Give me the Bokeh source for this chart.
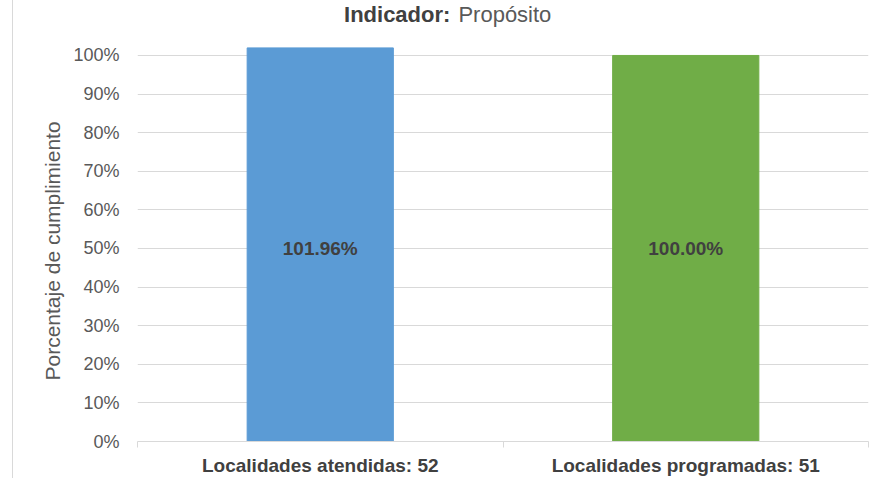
from bokeh.plotting import figure
from bokeh.models import ColumnDataSource, FixedTicker, Label, NumeralTickFormatter, Title
from bokeh.core.properties import value
from bokeh.embed import file_html
from bokeh.resources import INLINE

categories = ["Localidades atendidas: 52", "Localidades programadas: 51"]
percentages = [1.0196, 1.0]
colors = ["#5B9BD5", "#70AD47"]
y_ticks = [0.0, 0.1, 0.2, 0.3, 0.4, 0.5, 0.6, 0.7, 0.8, 0.9, 1.0]
title_bold = "Indicador:"
title_normal = "Propósito"
y_title = "Porcentaje de cumplimiento"

x_pos = [i + 0.5 for i in range(len(categories))]
labels = [f"{v*100:.2f}%" for v in percentages]
src = ColumnDataSource(dict(x=x_pos, top=percentages, color=colors,
                            label=labels, mid=[0.5] * len(categories)))

y_end = 1.132
p = figure(width=860, height=478, x_range=(0, len(categories)), y_range=(0, y_end),
           output_backend="svg", toolbar_location=None,
           min_border_left=124, min_border_right=5, min_border_top=4, min_border_bottom=37)
p.styles = {"margin-left": "12px", "border-left": "1px solid #D9D9D9"}
p.outline_line_color = None
p.background_fill_color = "white"

p.vbar(x="x", top="top", bottom=0, width=0.4, color="color", source=src)
p.text(x="x", y="mid", text="label", source=src, text_align="center", text_baseline="middle",
       text_font=value("Liberation Sans"), text_font_style="bold", text_font_size="19px",
       text_color="#404040")

# x axis
p.xaxis.ticker = FixedTicker(ticks=x_pos, minor_ticks=list(range(len(categories) + 1)))
p.xaxis.major_label_overrides = {x: c for x, c in zip(x_pos, categories)}
p.xaxis.major_tick_out = 0
p.xaxis.major_tick_in = 0
p.xaxis.minor_tick_out = 6
p.xaxis.minor_tick_in = 0
p.xaxis.minor_tick_line_color = "#D9D9D9"
p.xaxis.axis_line_color = "#D9D9D9"
p.xaxis.major_label_text_font = "Liberation Sans"
p.xaxis.major_label_text_font_style = "bold"
p.xaxis.major_label_text_font_size = "19px"
p.xaxis.major_label_text_color = "#404040"
p.xaxis.major_label_standoff = 7
p.xgrid.grid_line_color = None

# y axis
p.yaxis.ticker = FixedTicker(ticks=y_ticks)
p.yaxis.formatter = NumeralTickFormatter(format="0%")
p.yaxis.axis_line_color = None
p.yaxis.major_tick_line_color = None
p.yaxis.minor_tick_line_color = None
p.yaxis.major_label_text_font = "Liberation Sans"
p.yaxis.major_label_text_font_size = "18px"
p.yaxis.major_label_text_color = "#595959"
p.yaxis.major_label_standoff = 12
p.ygrid.grid_line_color = "#D9D9D9"
p.ygrid.ticker = FixedTicker(ticks=y_ticks[1:])

# y-axis title, placed along the 0-100% span
p.add_layout(Title(text=y_title, align="left", offset=61, standoff=13,
                   text_font="Liberation Sans", text_font_style="normal",
                   text_font_size="21px", text_color="#595959"), "left")

# chart title
title_x = 0.867
title_y = 1.075
p.add_layout(Label(x=title_x - 0.011, y=title_y, text=title_bold, text_align="right",
                   text_font="Liberation Sans", text_font_style="bold", text_font_size="22px",
                   text_color="#404040"))
p.add_layout(Label(x=title_x + 0.011, y=title_y, text=title_normal, text_align="left",
                   text_font="Liberation Sans", text_font_size="22px", text_color="#595959"))

open("out.html", "w").write(file_html(p, INLINE))
